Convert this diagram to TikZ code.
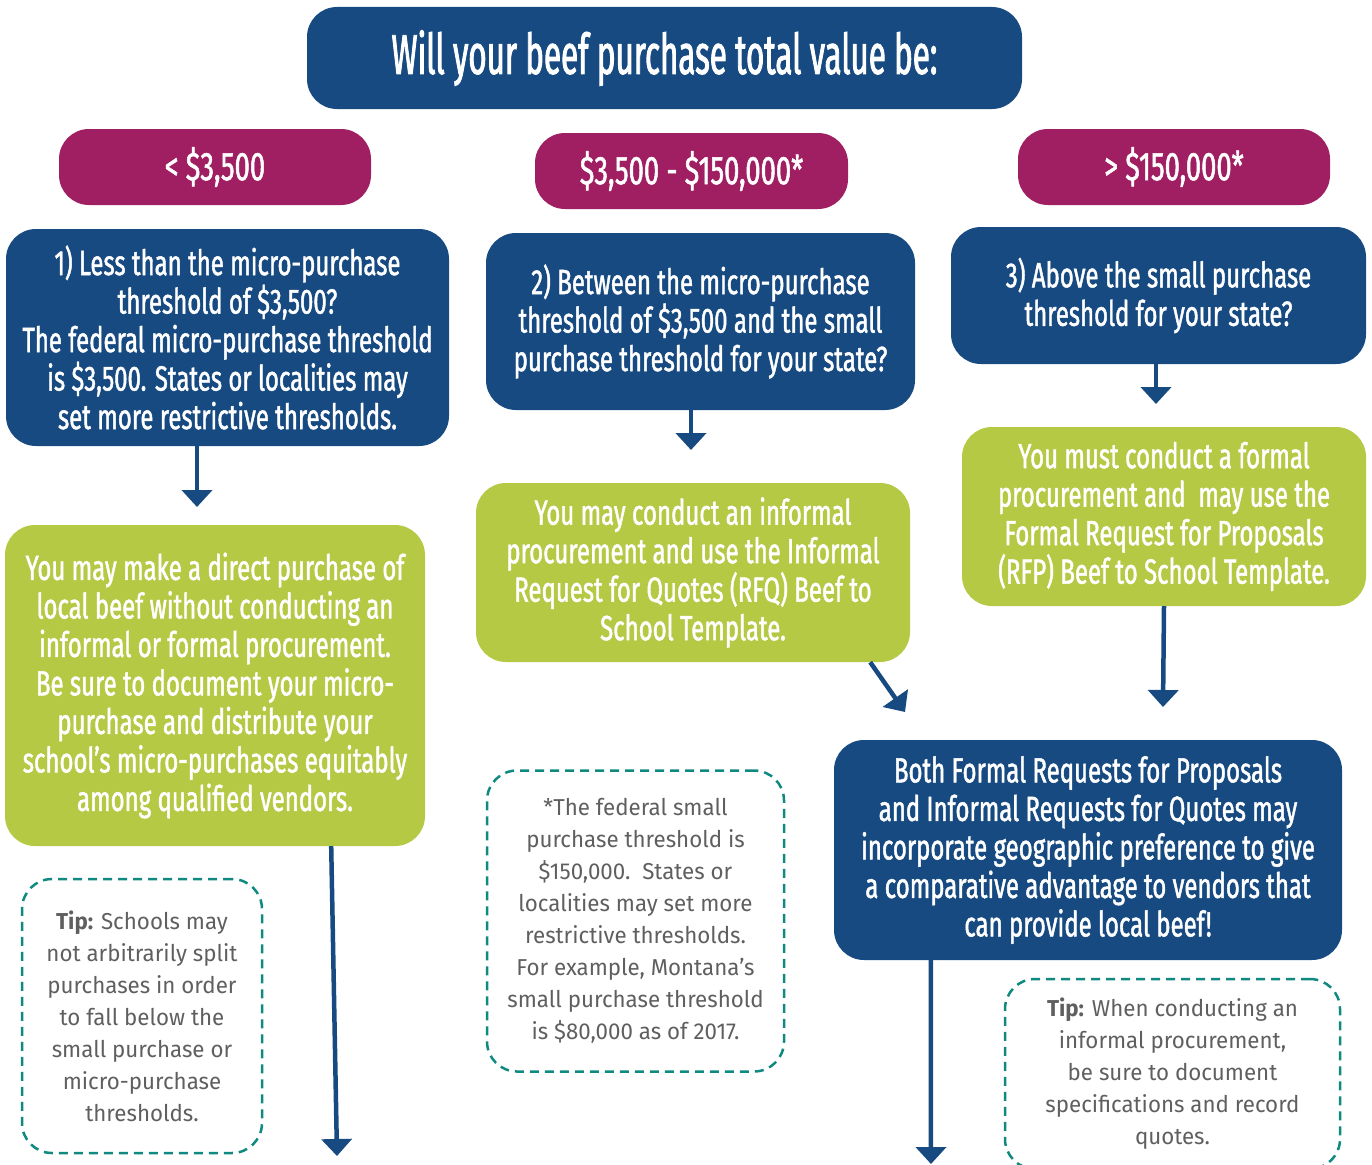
\documentclass[tikz,border=0pt]{standalone}
\usepackage{fontspec}
\usetikzlibrary{arrows.meta}
\newfontfamily\condfont[FakeStretch=0.685,FakeBold=1.3]{Fira Sans}
\newfontfamily\titlefont[FakeStretch=0.56,FakeBold=1.5]{Fira Sans}
\newfontfamily\tipfont[FakeStretch=0.97]{Fira Sans}
\definecolor{beefblue}{RGB}{22,74,128}
\definecolor{beefplum}{RGB}{160,30,98}
\definecolor{beefgreen}{RGB}{181,201,68}
\definecolor{tipteal}{RGB}{16,138,128}
\definecolor{tipgray}{RGB}{95,95,95}
\tikzstyle{askbox}=[rounded corners=30pt,fill=beefblue,text=white,align=center,inner sep=0pt,font=\condfont\fontsize{35}{38.5}\selectfont]
\tikzstyle{rangebox}=[rounded corners=30pt,fill=beefplum,text=white,align=center,inner sep=0pt,font=\condfont\fontsize{40}{44}\selectfont]
\tikzstyle{dobox}=[rounded corners=30pt,fill=beefgreen,text=white,align=center,inner sep=0pt,font=\condfont\fontsize{35}{38.5}\selectfont]
\tikzstyle{tipbox}=[rounded corners=30pt,draw=tipteal,line width=2.5pt,dash pattern=on 9pt off 6pt,text=tipgray,align=center,inner sep=0pt,font=\tipfont\fontsize{23}{32}\selectfont]
\tikzstyle{flow}=[draw=beefblue,line width=4.5pt,-{Triangle[width=30pt,length=17pt]}]

\begin{document}
\begin{tikzpicture}[x=1pt,y=-1pt]
    \useasboundingbox (0,0) rectangle (1372,1164);
    \node[askbox,minimum width=715,minimum height=102,font=\titlefont\fontsize{56}{60}\selectfont] (title) at (664.5,58) {Will your beef purchase total value be:};
    \node[rangebox,minimum width=312,minimum height=76] (r1) at (215,167) {< \$3,500};
    \node[rangebox,minimum width=313,minimum height=76] (r2) at (691.5,171) {\$3,500 - \$150,000*};
    \node[rangebox,minimum width=312,minimum height=76] (r3) at (1174,167) {> \$150,000*};

    \node[askbox,minimum width=443,minimum height=217] (b1) at (227.5,337.5) {1) Less than the micro-purchase\\threshold of \$3,500?\\The federal micro-purchase threshold\\is \$3,500. States or localities may\\set more restrictive thresholds.};
    \node[askbox,minimum width=429,minimum height=177] (b2) at (700.5,321.5) {2) Between the micro-purchase\\threshold of \$3,500 and the small\\purchase threshold for your state?};
    \node[askbox,minimum width=415,minimum height=137] (b3) at (1158.5,295.5) {3) Above the small purchase\\threshold for your state?};

    \node[dobox,minimum width=420,minimum height=321] (g1) at (215,685.5) {You may make a direct purchase of\\local beef without conducting an\\informal or formal procurement.\\Be sure to document your micro-\\purchase and distribute your\\school’s micro-purchases equitably\\among qualified vendors.};
    \node[dobox,minimum width=434,minimum height=179] (g2) at (693,572.5) {You may conduct an informal\\procurement and use the Informal\\Request for Quotes (RFQ) Beef to\\School Template.};
    \node[dobox,minimum width=404,minimum height=179] (g3) at (1164,516.5) {You must conduct a formal\\procurement and\ \ may use the\\Formal Request for Proposals\\(RFP) Beef to School Template.};

    \node[askbox,minimum width=508,minimum height=220] (b4) at (1088,850) {Both Formal Requests for Proposals\\and Informal Requests for Quotes may\\incorporate geographic preference to give\\a comparative advantage to vendors that\\can provide local beef!};

    \node[tipbox,minimum width=240,minimum height=274] (t1) at (142,1016) {\textbf{Tip:} Schools may\\not arbitrarily split\\purchases in order\\to fall below the\\small purchase or\\micro-purchase\\thresholds.};
    \node[tipbox,minimum width=297,minimum height=301] (t2) at (635.5,921) {*The federal small\\purchase threshold is\\\$150,000.\ \ States or\\localities may set more\\restrictive thresholds.\\For example, Montana’s\\small purchase threshold\\is \$80,000 as of 2017.};
    \node[tipbox,minimum width=335,minimum height=190] (t3) at (1172.5,1074) {\textbf{Tip:} When conducting an\\informal procurement,\\be sure to document\\specifications and record\\quotes.};

    \coordinate (a1) at (197,507);
    \coordinate (a2) at (691,450);
    \coordinate (a3) at (1156,404);
    \coordinate (a4) at (905,712);
    \coordinate (a5) at (1163,707);
    \coordinate (a6) at (337,1156);
    \coordinate (a7) at (931,1164);

    \draw[flow] (b1.south -| a1) -- (a1);
    \draw[flow] (b2.south -| a2) -- (a2);
    \draw[flow] (b3.south -| a3) -- (a3);
    \draw[flow] ([xshift=-40pt]g2.south east) -- (a4);
    \draw[flow] (g3.south) -- (a5);
    \draw[flow] ([xshift=-94pt]g1.south east) -- (a6);
    \draw[flow] ([xshift=97pt]b4.south west) -- (a7);
\end{tikzpicture}
\end{document}
